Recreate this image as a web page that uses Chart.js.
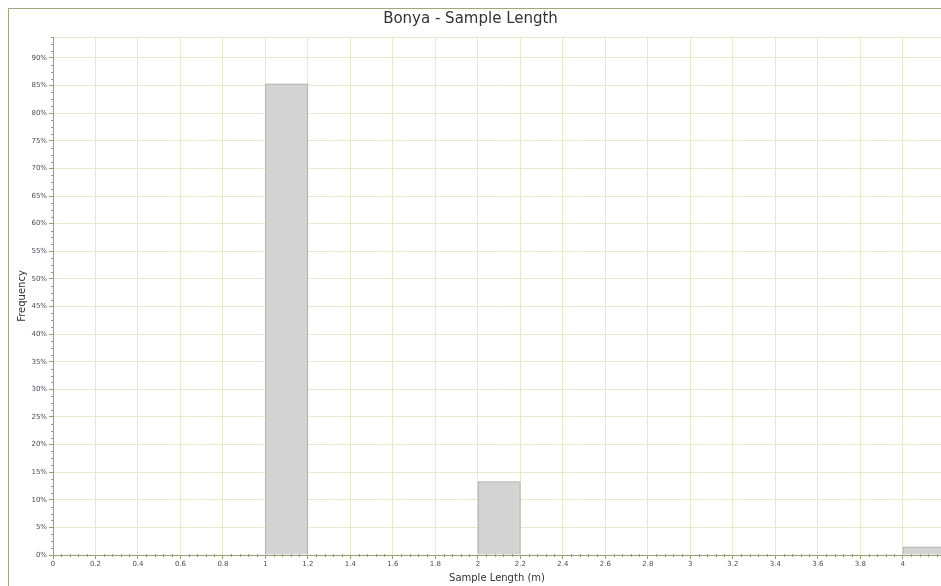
<!DOCTYPE html>
<html>
<head>
<meta charset="utf-8">
<script src="https://cdn.jsdelivr.net/npm/chart.js@4"></script>
<style>
  body { margin: 0; background: #fff; }
  #wrap { position: relative; width: 941px; height: 586px; }
  #frame { position: absolute; left: 8px; top: 8px; right: 0; bottom: 0;
           border-left: 1px solid #a4a47e; border-top: 1px solid #a4a47e; }
  canvas { position: absolute; left: 0; top: 0; }
</style>
</head>
<body>
<div id="wrap">
  <div id="frame"></div>
  <canvas id="myChart" width="941" height="586"></canvas>
</div>
<script>
// histogram bins (m) and their frequency (%)
var binStarts = [1, 2, 4];
var binWidth = 0.2;
var frequencies = [85.3, 13.3, 1.5];

var axisColor = '#9c9d73';
var gridColor = '#e6e8cf';
var labelColor = '#4c4c5c';

// small minor tick marks between the labelled ones, plus the top edge line
var minorTicks = {
  id: 'minorTicks',
  afterDraw: function(chart) {
    var c = chart.ctx, a = chart.chartArea;
    var xs = chart.scales.x, ys = chart.scales.y;
    c.save();
    c.strokeStyle = gridColor;
    c.lineWidth = 1;
    c.beginPath();
    c.moveTo(a.left, a.top + 0.5);
    c.lineTo(a.right, a.top + 0.5);
    c.stroke();
    c.strokeStyle = axisColor;
    c.beginPath();
    for (var i = 0; i * 0.04 <= xs.max; i++) {
      if (i % 5 === 0) continue;
      var px = Math.round(xs.getPixelForValue(i * 0.04)) + 0.5;
      c.moveTo(px, a.bottom - 1);
      c.lineTo(px, a.bottom + 2);
    }
    for (var j = 0; j <= ys.max; j += 1.25) {
      if (j % 5 === 0) continue;
      var py = Math.round(ys.getPixelForValue(j)) + 0.5;
      c.moveTo(a.left - 2, py);
      c.lineTo(a.left + 1, py);
    }
    c.stroke();
    c.restore();
  }
};

var ctx = document.getElementById('myChart').getContext('2d');
var myChart = new Chart(ctx, {
  type: 'bar',
  data: {
    datasets: [{
      label: 'Frequency',
      data: binStarts.map(function(s, i) { return { x: s + binWidth / 2, y: frequencies[i] }; }),
      backgroundColor: '#d3d3d3',
      borderColor: '#a9a9a9',
      borderWidth: 1,
      categoryPercentage: 1,
      barPercentage: 1
    }]
  },
  options: {
    responsive: false,
    animation: false,
    layout: { padding: { left: 0, right: 0, top: 0, bottom: 0 } },
    plugins: {
      legend: { display: false },
      tooltip: { enabled: false },
      title: {
        display: true,
        text: 'Bonya - Sample Length',
        color: '#333333',
        font: { family: 'DejaVu Sans', size: 15, weight: 'normal' },
        padding: { top: 10, bottom: 9 }
      }
    },
    scales: {
      x: {
        type: 'linear',
        min: 0,
        max: 4.18,
        offset: false,
        afterFit: function(s) { s.height = 31; },
        ticks: {
          stepSize: 0.2,
          includeBounds: false,
          autoSkip: false,
          maxRotation: 0,
          padding: 1,
          color: labelColor,
          font: { family: 'DejaVu Sans', size: 7 },
          callback: function(v) { return String(Math.round(v * 10) / 10); }
        },
        grid: { offset: false, color: gridColor, tickColor: axisColor, tickLength: 4 },
        border: { color: axisColor },
        title: {
          display: true,
          text: 'Sample Length (m)',
          color: '#333333',
          font: { family: 'DejaVu Sans', size: 10 },
          padding: { top: 0, bottom: 2 }
        }
      },
      y: {
        min: 0,
        max: 93.8,
        afterFit: function(s) { s.width = 53; },
        ticks: {
          stepSize: 5,
          includeBounds: false,
          autoSkip: false,
          padding: 2,
          color: labelColor,
          font: { family: 'DejaVu Sans', size: 7 },
          callback: function(v) { return v + '%'; }
        },
        grid: { color: gridColor, tickColor: axisColor, tickLength: 4 },
        border: { color: axisColor },
        title: {
          display: true,
          text: 'Frequency',
          color: '#333333',
          font: { family: 'DejaVu Sans', size: 10 },
          padding: { top: 16, bottom: 0 }
        }
      }
    }
  },
  plugins: [minorTicks]
});
</script>
</body>
</html>
